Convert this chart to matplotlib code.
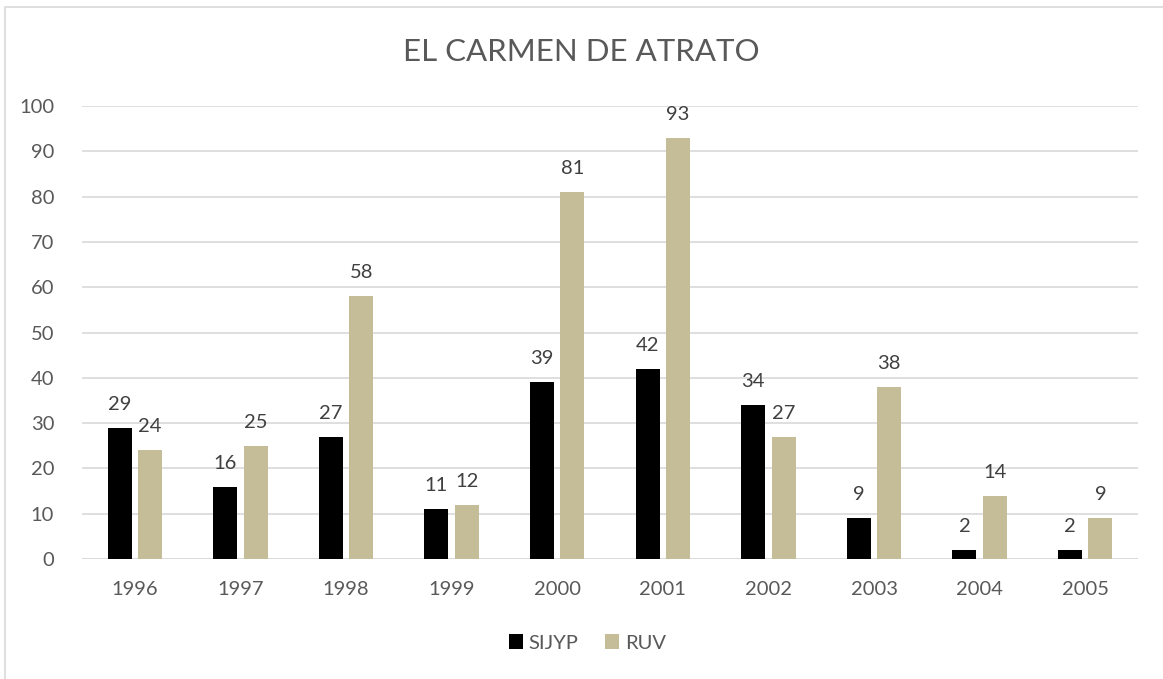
import matplotlib.pyplot as plt
import numpy as np
from matplotlib.patches import Rectangle

years = ['1996', '1997', '1998', '1999', '2000', '2001', '2002', '2003', '2004', '2005']
sijyp = [29, 16, 27, 11, 39, 42, 34, 9, 2, 2]
ruv = [24, 25, 58, 12, 81, 93, 27, 38, 14, 9]

plt.rcParams['font.family'] = ['Lato', 'DejaVu Sans']
txt = '#595959'

fig = plt.figure(figsize=(11.63, 6.79), dpi=100)
fig.patches.append(Rectangle((5 / 1163, -0.1), 1.2, 1.1 - 7 / 679, transform=fig.transFigure,
                             fill=False, edgecolor='#d9d9d9', linewidth=1.2))
ax = fig.add_axes([82 / 1163, 1 - 559 / 679, (1138 - 82) / 1163, (559 - 106) / 679])

x = np.arange(len(years))
w = 0.227
off = 0.144
b1 = ax.bar(x - off, sijyp, w, color='#000000', label='SIJYP', zorder=3)
b2 = ax.bar(x + off, ruv, w, color='#c4bd97', label='RUV', zorder=3)

for bars, vals in ((b1, sijyp), (b2, ruv)):
    for r, v in zip(bars, vals):
        ax.text(r.get_x() + r.get_width() / 2, v + 3.3, str(v), ha='center', va='bottom',
                fontsize=14.5, color='#404040')

ax.set_xlim(-0.5, len(years) - 0.5)
ax.set_ylim(0, 100)
ax.set_yticks(range(0, 101, 10))
ax.set_xticks(x)
ax.set_xticklabels(years)
ax.yaxis.grid(True, color='#d9d9d9', linewidth=1.2, zorder=0)
for s in ax.spines.values():
    s.set_visible(False)
ax.axhline(0, color='#d9d9d9', linewidth=1.2, zorder=2)
ax.tick_params(length=0, labelsize=14.5, colors=txt)
ax.tick_params(axis='x', pad=16)
ax.tick_params(axis='y', pad=20)

fig.text(0.5, 1 - 52 / 679, 'EL CARMEN DE ATRATO', ha='center', va='center', fontsize=22.5, color=txt)
fig.legend(loc='center', bbox_to_anchor=(0.505, 1 - 643 / 679), ncol=2, frameon=False,
           fontsize=14.5, labelcolor=txt, handlelength=0.7, handleheight=0.7, handletextpad=0.3,
           columnspacing=1.3)

fig.savefig('out.png', dpi=100)
